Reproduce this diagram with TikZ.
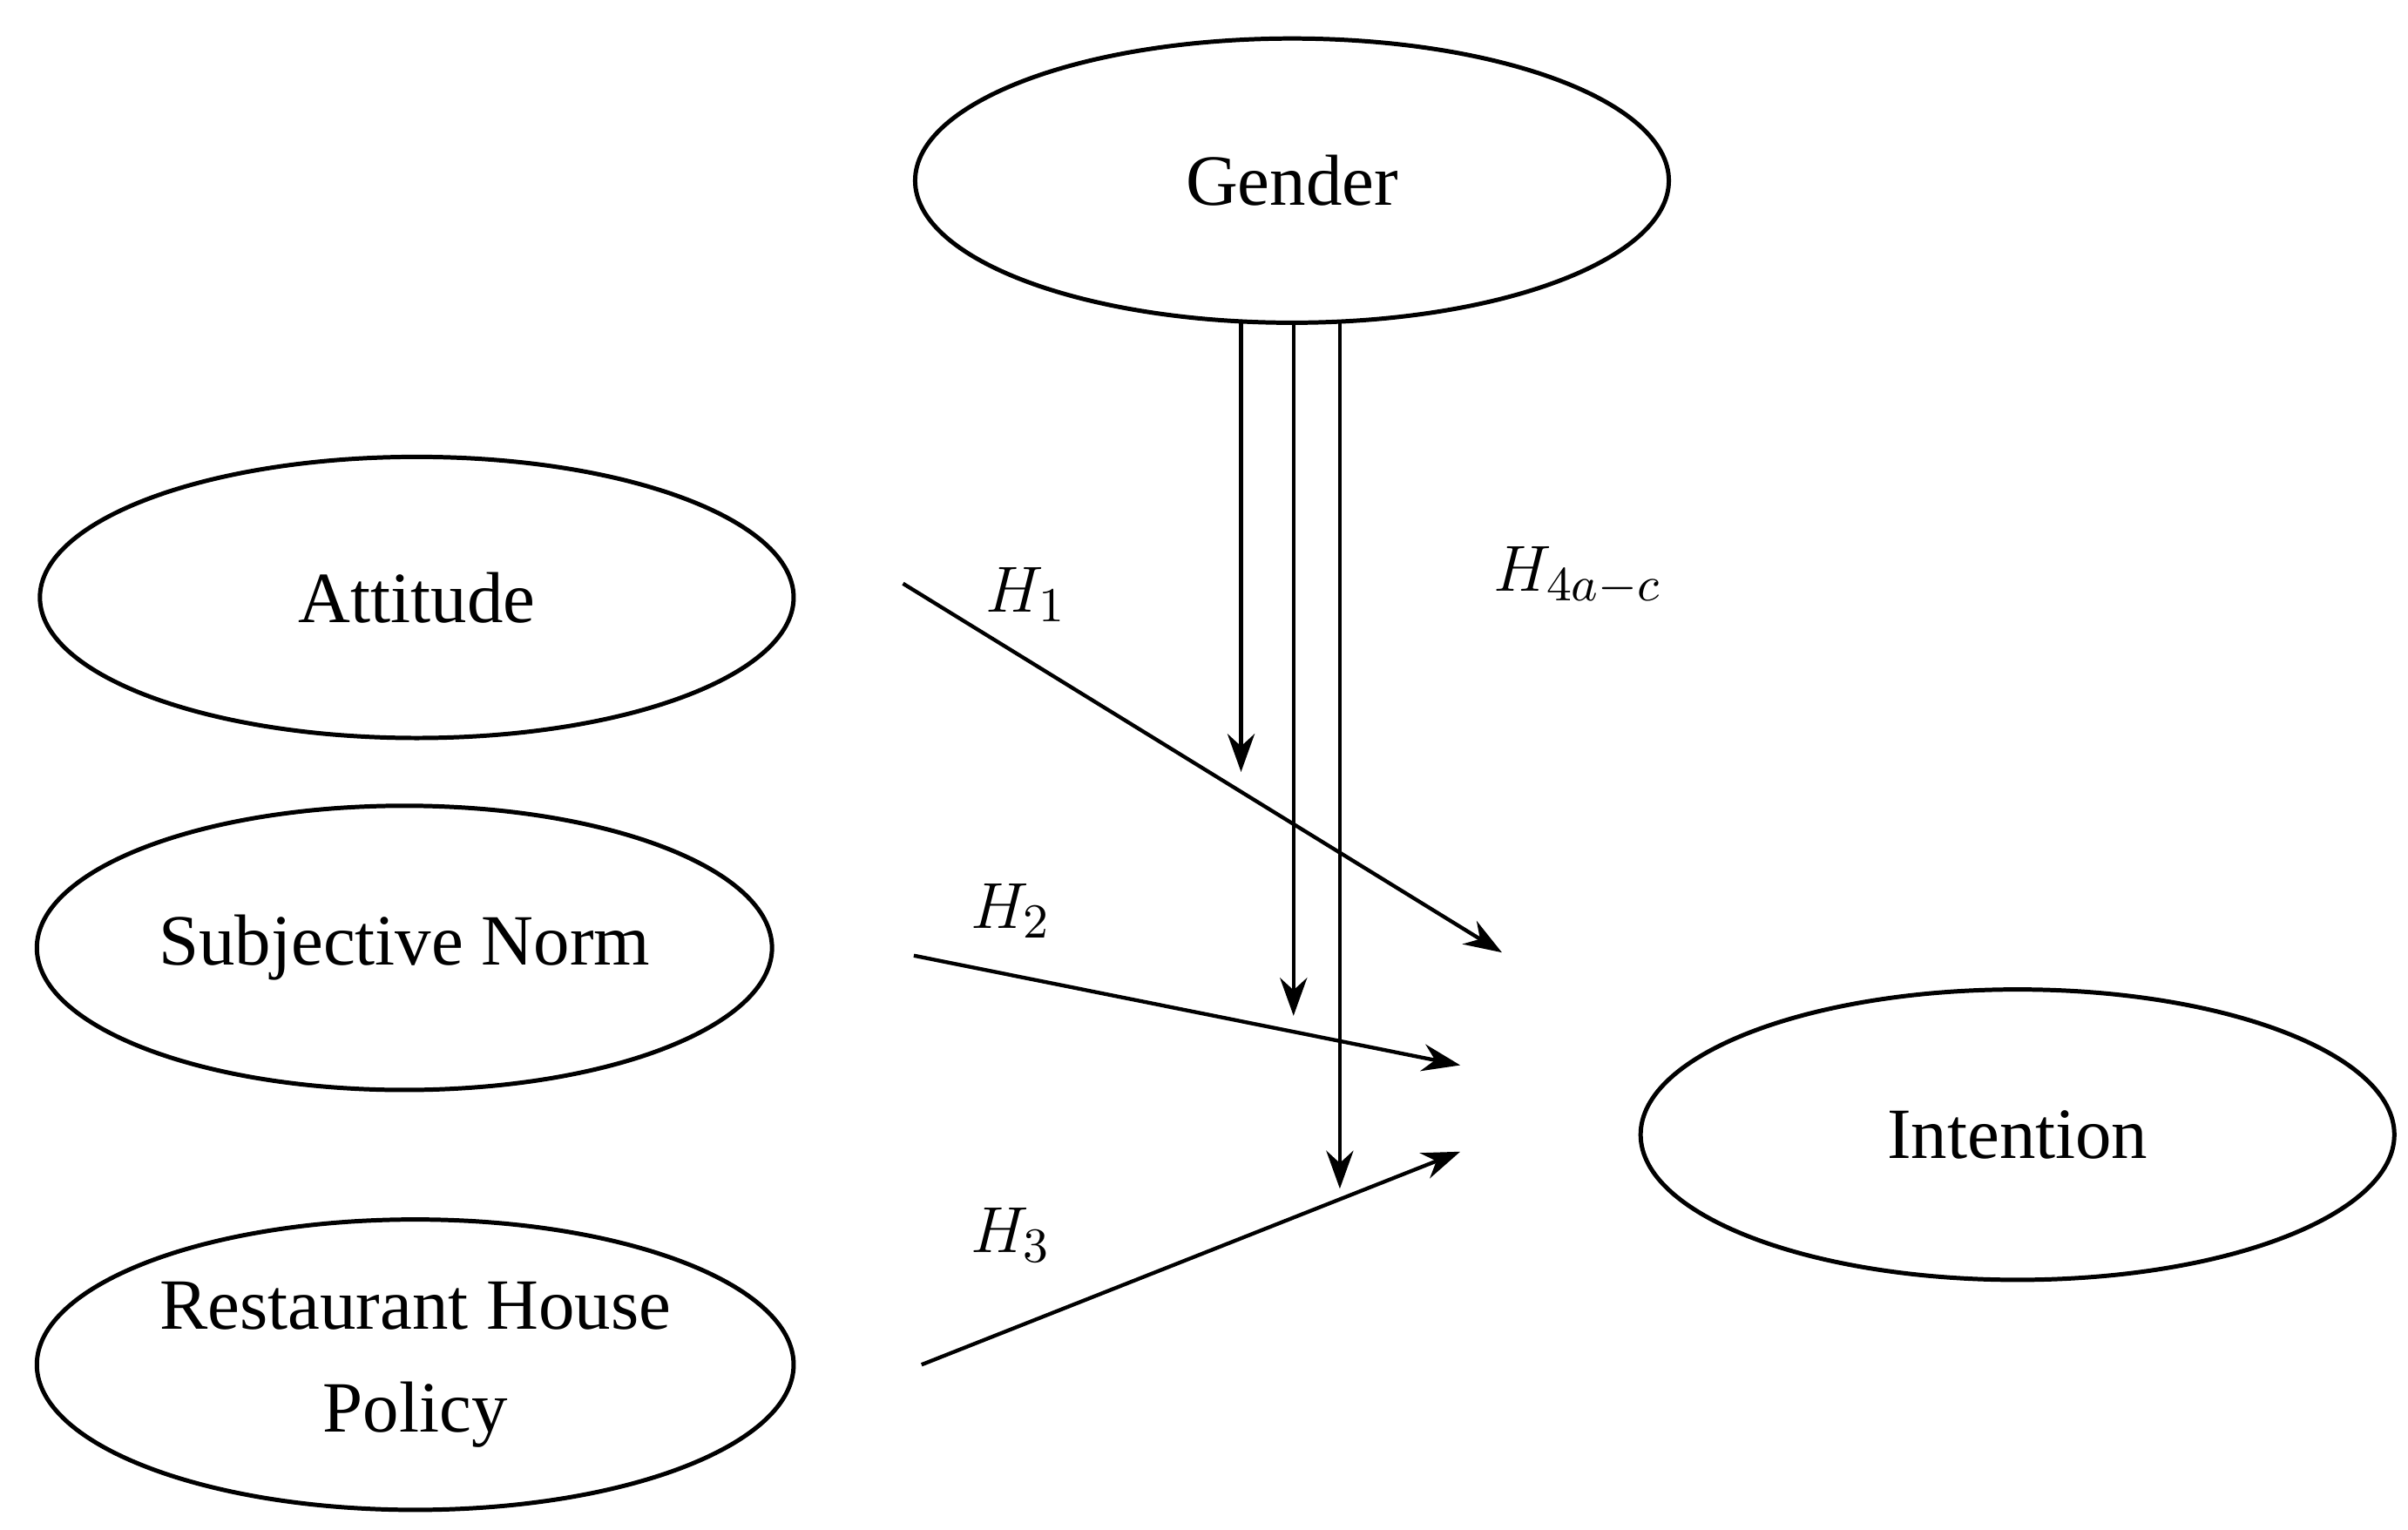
\documentclass[tikz,border=0pt]{standalone}
\usepackage{fontspec}
\setmainfont{Liberation Serif}
\usetikzlibrary{shapes.geometric,arrows.meta}
\begin{document}
\begin{tikzpicture}[x=0.01cm,y=-0.01cm,
  el/.style={draw,ellipse,inner sep=0pt,line width=0.8pt,align=center,font=\fontsize{13.3}{17}\selectfont},
  ar/.style={-{Stealth[length=7pt,width=5pt]},line width=0.7pt},
  lb/.style={font=\fontsize{13}{15}\selectfont}]
\useasboundingbox (0,0) rectangle (1560,991);
\node[el, minimum width=4.88cm, minimum height=1.84cm] (g) at (837,117) {Gender};
\node[el, minimum width=4.88cm, minimum height=1.82cm] (a) at (270,387) {Attitude};
\node[el, minimum width=4.76cm, minimum height=1.84cm] (s) at (262,614) {Subjective Norm};
\node[el, minimum width=4.90cm, minimum height=1.88cm] (r) at (269,884) {Restaurant House\\[2pt]Policy};
\node[el, minimum width=4.88cm, minimum height=1.88cm] (i) at (1307,735) {Intention};
\coordinate (a1) at (585,378); \coordinate (a2) at (973,617);
\coordinate (s1) at (592,619); \coordinate (s2) at (946,690);
\coordinate (r1) at (597,884); \coordinate (r2) at (946,746);
\coordinate (g1) at (804,208); \coordinate (g1e) at (804,500);
\coordinate (g2) at (838,208); \coordinate (g2e) at (838,658);
\coordinate (g3) at (868,208); \coordinate (g3e) at (868,770);
\draw[ar] (a1) -- (a2);
\draw[ar] (s1) -- (s2);
\draw[ar] (r1) -- (r2);
\draw[ar] (g1) -- (g1e);
\draw[ar] (g2) -- (g2e);
\draw[ar] (g3) -- (g3e);
\node[lb] (h1) at (665,385) {$H_1$};
\node[lb] (h2) at (655,590) {$H_2$};
\node[lb] (h3) at (655,800) {$H_3$};
\node[lb] (h4) at (1022,373) {$H_{4a-c}$};
\end{tikzpicture}
\end{document}
